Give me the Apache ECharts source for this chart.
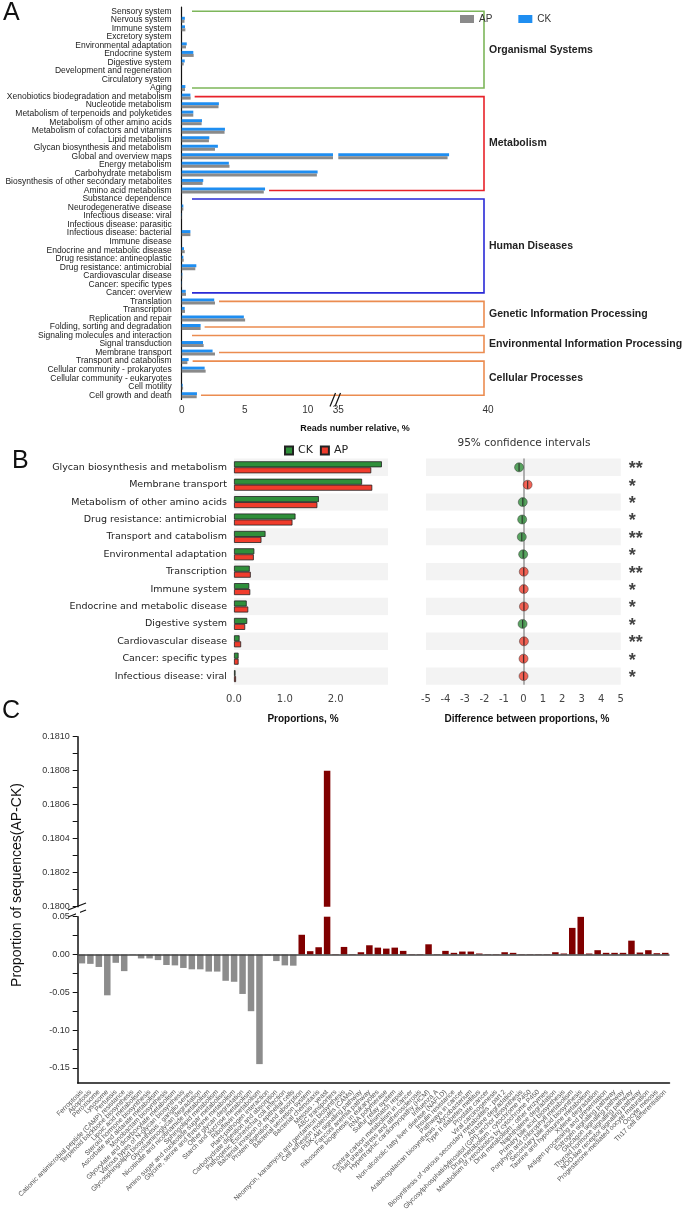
<!DOCTYPE html>
<html><head><meta charset="utf-8">
<script src="https://cdn.jsdelivr.net/npm/echarts@6/dist/echarts.min.js"></script>
<style>html,body{margin:0;padding:0;background:#fff}#c{width:685px;height:1222px}</style>
</head><body><div id="c"></div><script>
// ---------- Panel A data ----------
const catsA = ['Sensory system','Nervous system','Immune system','Excretory system','Environmental adaptation','Endocrine system','Digestive system','Development and regeneration','Circulatory system','Aging',
 'Xenobiotics biodegradation and metabolism','Nucleotide metabolism','Metabolism of terpenoids and polyketides','Metabolism of other amino acids','Metabolism of cofactors and vitamins','Lipid metabolism','Glycan biosynthesis and metabolism','Global and overview maps','Energy metabolism','Carbohydrate metabolism','Biosynthesis of other secondary metabolites','Amino acid metabolism',
 'Substance dependence','Neurodegenerative disease','Infectious disease: viral','Infectious disease: parasitic','Infectious disease: bacterial','Immune disease','Endocrine and metabolic disease','Drug resistance: antineoplastic','Drug resistance: antimicrobial','Cardiovascular disease','Cancer: specific types','Cancer: overview',
 'Translation','Transcription','Replication and repair','Folding, sorting and degradation',
 'Signaling molecules and interaction','Signal transduction','Membrane transport',
 'Transport and catabolism','Cellular community - prokaryotes','Cellular community - eukaryotes','Cell motility','Cell growth and death'];
const ckA = [0,0.25,0.26,0,0.40,0.92,0.24,0,0,0.29,
 0.69,2.95,0.92,1.61,3.43,2.19,2.87,38.7,3.74,10.78,1.71,6.61,
 0,0.13,0.02,0,0.69,0,0.18,0.13,1.16,0.05,0.02,0.32,
 2.58,0.24,4.93,1.50,
 0,1.69,2.45,
 0.55,1.82,0,0.08,1.21];
const apA = [0,0.22,0.29,0,0.34,0.95,0.16,0,0,0.26,
 0.71,2.92,0.92,1.58,3.40,2.16,2.64,38.65,3.79,10.72,1.66,6.51,
 0,0.13,0.02,0,0.69,0,0.24,0.16,1.08,0.05,0.02,0.34,
 2.64,0.26,5.03,1.50,
 0,1.74,2.64,
 0.45,1.90,0,0.11,1.19];
const groupNamesA = ['Organismal Systems','Metabolism','Human Diseases','Genetic Information Processing','Environmental Information Processing','Cellular Processes'];
const groupFirstA = [0,10,22,34,38,41];
const groupLastA  = [9,21,33,37,40,45];
const groupColorsA = ['#7db65a','#e8222a','#2a2ad6','#eb8c50','#eb8c50','#eb8c50'];
const ticksLeftA = [0,2.5,5,7.5,10], labelsLeftA = [0,5,10];
const ticksRightA = [35,37.5,40], labelsRightA = [35,40];

// ---------- Panel B data ----------
const catsB = ['Glycan biosynthesis and metabolism','Membrane transport','Metabolism of other amino acids','Drug resistance: antimicrobial','Transport and catabolism','Environmental adaptation','Transcription','Immune system','Endocrine and metabolic disease','Digestive system','Cardiovascular disease','Cancer: specific types','Infectious disease: viral'];
const ckB = [2.91,2.52,1.67,1.21,0.62,0.40,0.31,0.30,0.25,0.26,0.11,0.09,0.03];
const apB = [2.70,2.72,1.64,1.15,0.54,0.39,0.33,0.32,0.28,0.22,0.14,0.09,0.04];
const diffB = [-0.22,0.22,-0.03,-0.06,-0.08,-0.01,0.02,0.02,0.03,-0.04,0.03,0.01,0.01];
const sigB = ['**','*','*','*','**','*','**','*','*','*','**','*','*'];
const ticksPropB = [0,0.5,1,1.5,2,2.5], labelsPropB = [0,1,2];

// ---------- Panel C data ----------
const catsC = ['Ferroptosis','Apoptosis','Peroxisome','Lysosome','Pertussis','Cationic antimicrobial peptide (CAMP) resistance','Terpenoid backbone biosynthesis','Lipoic acid metabolism','Steroid hormone biosynthesis','Ascorbate and aldarate metabolism',
 'Monobactam biosynthesis','Glyoxylate and dicarboxylate metabolism','Various types of N-glycan biosynthesis','Glycosphingolipid biosynthesis - ganglio series','Glycosaminoglycan degradation','Nicotinate and nicotinamide metabolism','Sphingolipid metabolism','Amino sugar and nucleotide sugar metabolism','Glycine, serine and threonine metabolism','Other glycan degradation',
 'Starch and sucrose metabolism','Riboflavin metabolism','Plant-pathogen interaction','Carbohydrate digestion and absorption','Pathogenic Escherichia coli infection','Bacterial invasion of epithelial cells','Protein digestion and absorption','Bacterial secretion system','Bacterial chemotaxis','Meiosis - yeast',
 'ABC transporters','Neomycin, kanamycin and gentamicin biosynthesis','Cell adhesion molecules (CAMs)','PI3K-Akt signaling pathway','Fanconi anemia pathway','Ribosome biogenesis in eukaryotes','RNA polymerase','Sulfur relay system','Mismatch repair','Central carbon metabolism in cancer',
 'Fluid shear stress and atherosclerosis','Hypertrophic cardiomyopathy (HCM)','Influenza A','Non-alcoholic fatty liver disease (NAFLD)','Insulin resistance','Pathways in cancer','Arabinogalactan biosynthesis - Mycobacterium','Type II diabetes mellitus','Prostate cancer','Viral carcinogenesis',
 'Biosynthesis of various secondary metabolites - part 2','Atrazine degradation','Glycosylphosphatidylinositol (GPI)-anchor biosynthesis','Drug metabolism - cytochrome P450','Metabolism of xenobiotics by cytochrome P450','Drug metabolism - other enzymes','Naphthalene degradation','Primary bile acid biosynthesis','Porphyrin and chlorophyll metabolism','Secondary bile acid biosynthesis',
 'Taurine and hypotaurine metabolism','Xylene degradation','Antigen processing and presentation','Estrogen signaling pathway','Glucagon signaling pathway','Thyroid hormone signaling pathway','NOD-like receptor signaling pathway','Progesterone-mediated oocyte maturation','Oocyte meiosis','Th17 cell differentiation'];
const valsC = [-0.0118,-0.0124,-0.0165,-0.054,-0.011,-0.022,-0.0005,-0.0052,-0.0052,-0.0074,
 -0.0139,-0.0144,-0.0178,-0.0196,-0.0196,-0.0226,-0.0226,-0.0348,-0.0361,-0.0522,
 -0.075,-0.145,-0.0013,-0.0087,-0.0144,-0.0148,0.0261,0.0044,0.0096,0.1808,
 0.0005,0.010,0.0005,0.003,0.0122,0.0091,0.0078,0.0091,0.0048,0.0005,
 0.0005,0.0135,0.0005,0.0048,0.0022,0.0039,0.0039,0.0013,0.0005,0.0005,
 0.003,0.0022,0.0005,0.0005,0.0005,0.0005,0.003,0.0013,0.0352,0.0498,
 0.0013,0.0057,0.0022,0.0022,0.0022,0.0183,0.0026,0.0057,0.0017,0.0022];
const ticksUpperC = [0.18,0.1801,0.1802,0.1803,0.1804,0.1805,0.1806,0.1807,0.1808,0.1809,0.181];
const labelsUpperC = [0.18,0.1802,0.1804,0.1806,0.1808,0.181];
const ticksLowerC = [-0.15,-0.125,-0.1,-0.075,-0.05,-0.025,0,0.025,0.05];
const labelsLowerC = [-0.15,-0.1,-0.05,0,0.05];

const FA = '"Liberation Sans", Arial, Helvetica, sans-serif';
const FB = '"DejaVu Sans", sans-serif';
const BLUE = '#1f8ef1', GRAY = '#8a8a8a', GREEN = '#2f8f3a', RED = '#f03c2c', DRED = '#800000', CGRAY = '#8c8c8c';

const gridBase = {outerBoundsMode: 'none', containLabel: false};
const catYA = (extra) => Object.assign({type: 'category', data: catsA, inverse: true, gridIndex: 0}, extra);

const option = {
  animation: false,
  backgroundColor: '#fff',
  textStyle: {fontFamily: FA},
  grid: [
    Object.assign({left: 181.7, top: 7, width: 151.3, height: 392.5}, gridBase),
    Object.assign({left: 338.3, top: 7, width: 149.7, height: 392.5}, gridBase),
    Object.assign({left: 234, top: 458.6, width: 154, height: 226.2}, gridBase),
    Object.assign({left: 426, top: 458.6, width: 194.7, height: 226.2}, gridBase),
    Object.assign({left: 77.7, top: 736.7, width: 591.8, height: 170}, gridBase),
    Object.assign({left: 77.7, top: 916.7, width: 591.8, height: 166.3}, gridBase)
  ],
  legend: [
    {data: ['AP', 'CK'], left: 455, top: 9, icon: 'rect', itemWidth: 14, itemHeight: 8, itemGap: 26,
     textStyle: {fontSize: 10, color: '#333', fontFamily: FA}},
    {data: ['CK_B', 'AP_B'], left: 279, top: 440, icon: 'rect', itemWidth: 8, itemHeight: 8, itemGap: 7,
     formatter: n => n.replace('_B', ''), textStyle: {fontSize: 11, color: '#222', fontFamily: FB}}
  ],
  xAxis: [
    {type: 'value', gridIndex: 0, min: 0, max: 12, splitLine: {show: false},
     axisLine: {lineStyle: {color: '#111', width: 1.2}},
     axisTick: {customValues: ticksLeftA, length: 4, lineStyle: {color: '#111'}},
     axisLabel: {customValues: labelsLeftA, fontSize: 10, color: '#333', margin: 6}},
    {type: 'value', gridIndex: 1, min: 35, max: 40, splitLine: {show: false},
     axisLine: {lineStyle: {color: '#111', width: 1.2}},
     axisTick: {customValues: ticksRightA, length: 4, lineStyle: {color: '#111'}},
     axisLabel: {customValues: labelsRightA, fontSize: 10, color: '#333', margin: 6}},
    {type: 'value', gridIndex: 2, min: 0, max: 3.03, offset: 4, splitLine: {show: false},
     axisLine: {lineStyle: {color: '#aaa', width: 1.2}},
     axisTick: {customValues: ticksPropB, inside: true, length: 4, lineStyle: {color: '#777'}},
     axisLabel: {customValues: labelsPropB, formatter: v => Number(v).toFixed(1), fontSize: 10, color: '#444', margin: 6, fontFamily: FB}},
    {type: 'value', gridIndex: 3, min: -5, max: 5, interval: 1, offset: 4, splitLine: {show: false},
     axisLine: {lineStyle: {color: '#aaa', width: 1.2}},
     axisTick: {inside: true, length: 4, lineStyle: {color: '#777'}},
     axisLabel: {fontSize: 10, color: '#444', margin: 6, fontFamily: FB}},
    {type: 'category', gridIndex: 4, data: catsC, axisLine: {show: false}, axisTick: {show: false}, axisLabel: {show: false}},
    {type: 'category', gridIndex: 5, data: catsC,
     axisLine: {onZero: false, lineStyle: {color: '#111', width: 1.5}},
     axisTick: {alignWithLabel: true, interval: 0, length: 6, lineStyle: {color: '#111'}},
     axisLabel: {interval: 0, rotate: 45, fontSize: 6.8, color: '#555', margin: 8, hideOverlap: false}},
    {type: 'category', gridIndex: 5, data: catsC,
     axisLine: {show: false, onZero: false},
     axisTick: {interval: 0, length: 3, lineStyle: {color: '#111'}},
     axisLabel: {show: false}}
  ],
  yAxis: [
    catYA({axisLine: {lineStyle: {color: '#111', width: 1.2}},
      axisTick: {alignWithLabel: true, interval: 0, length: 6, lineStyle: {color: '#111'}},
      axisLabel: {interval: 0, fontSize: 8.5, color: '#222', margin: 10}}),
    catYA({axisLine: {show: false}, axisLabel: {show: false},
      axisTick: {interval: 0, length: 3, lineStyle: {color: '#111'}}}),
    {type: 'category', data: catsA, inverse: true, gridIndex: 1, axisLine: {show: false}, axisTick: {show: false}, axisLabel: {show: false}},
    {type: 'category', data: catsB, inverse: true, gridIndex: 2,
     axisLine: {show: false}, axisTick: {show: false},
     axisLabel: {interval: 0, fontSize: 9.5, color: '#222', margin: 7, fontFamily: FB},
     splitArea: {show: true, interval: 0, areaStyle: {color: ['#f3f3f3', '#ffffff']}}},
    {type: 'category', data: catsB, inverse: true, gridIndex: 3,
     axisLine: {show: false}, axisTick: {show: false}, axisLabel: {show: false},
     splitArea: {show: true, interval: 0, areaStyle: {color: ['#f3f3f3', '#ffffff']}}},
    {type: 'value', gridIndex: 4, min: 0.18, max: 0.181, splitLine: {show: false},
     axisLine: {show: true, lineStyle: {color: '#111', width: 1.5}},
     axisTick: {show: true, customValues: ticksUpperC, length: 5, lineStyle: {color: '#111'}},
     axisLabel: {customValues: labelsUpperC, formatter: v => Number(v).toFixed(4), fontSize: 9, color: '#333', margin: 8}},
    {type: 'value', gridIndex: 5, min: -0.17, max: 0.05, splitLine: {show: false},
     axisLine: {show: true, lineStyle: {color: '#111', width: 1.5}},
     axisTick: {show: true, customValues: ticksLowerC, length: 5, lineStyle: {color: '#111'}},
     axisLabel: {customValues: labelsLowerC, formatter: v => Number(v).toFixed(2), fontSize: 9, color: '#333', margin: 8}}
  ],
  series: [
    {name: 'CK', type: 'bar', xAxisIndex: 0, yAxisIndex: 0, data: ckA, barWidth: 3, barGap: '0%', itemStyle: {color: BLUE}},
    {name: 'AP', type: 'bar', xAxisIndex: 0, yAxisIndex: 0, data: apA, barWidth: 3, barGap: '0%', itemStyle: {color: GRAY}},
    {name: 'CK', type: 'bar', xAxisIndex: 1, yAxisIndex: 2, data: ckA, barWidth: 3, barGap: '0%', itemStyle: {color: BLUE}},
    {name: 'AP', type: 'bar', xAxisIndex: 1, yAxisIndex: 2, data: apA, barWidth: 3, barGap: '0%', itemStyle: {color: GRAY}},
    {name: 'CK_B', type: 'bar', xAxisIndex: 2, yAxisIndex: 3, data: ckB, barWidth: 6, barGap: '0%',
     itemStyle: {color: GREEN, borderColor: '#222', borderWidth: 0.8}},
    {name: 'AP_B', type: 'bar', xAxisIndex: 2, yAxisIndex: 3, data: apB, barWidth: 6, barGap: '0%',
     itemStyle: {color: RED, borderColor: '#222', borderWidth: 0.8}},
    {type: 'scatter', xAxisIndex: 3, yAxisIndex: 4, z: 3, symbolSize: 9,
     data: diffB.map((d, i) => ({value: [d, i], itemStyle: {color: d < 0 ? GREEN : RED, borderColor: '#333', borderWidth: 0.6}})),
     markLine: {silent: true, symbol: 'none', label: {show: false}, z: 1, lineStyle: {color: '#999', width: 1.5, type: 'solid'},
       data: [{xAxis: 0}]}},
    {type: 'scatter', xAxisIndex: 3, yAxisIndex: 4, z: 4, symbol: 'rect', symbolSize: [1.2, 8],
     itemStyle: {color: '#222'}, data: diffB.map((d, i) => [d, i])},
    {type: 'scatter', xAxisIndex: 3, yAxisIndex: 4, symbolSize: 0, z: 5,
     data: sigB.map((s, i) => [5, i, s]),
     label: {show: true, position: 'right', distance: 8, formatter: p => p.data[2],
       fontSize: 18, fontWeight: 'bold', color: '#111', fontFamily: FA, offset: [0, 2]}},
    {type: 'bar', xAxisIndex: 4, yAxisIndex: 5, data: valsC, barWidth: 6.5,
     itemStyle: {color: p => p.value < 0 ? CGRAY : DRED}},
    {type: 'bar', xAxisIndex: 5, yAxisIndex: 6, data: valsC, barWidth: 6.5, z: 2,
     itemStyle: {color: p => p.value < 0 ? CGRAY : DRED},
     markLine: {silent: true, symbol: 'none', label: {show: false}, z: 3,
       lineStyle: {color: '#444', width: 1.5, type: 'solid'}, data: [{yAxis: 0}]}}
  ]
};

const chart = echarts.init(document.getElementById('c'), null, {renderer: 'canvas', width: 685, height: 1222});
chart.setOption(option);

// ---------- annotations positioned from the axes ----------
const g = [];
const txt = (x, y, text, o) => g.push(Object.assign({type: 'text', x: x, y: y,
  style: Object.assign({text: text, fill: '#111', fontFamily: FA, fontSize: 10, align: 'left', verticalAlign: 'middle'}, o || {})}));
txt(3, 13, 'A', {fontSize: 25});
txt(12, 461, 'B', {fontSize: 25});
txt(2, 711, 'C', {fontSize: 25});
const yA = i => chart.convertToPixel({yAxisIndex: 0}, catsA[i]);
const xA = v => chart.convertToPixel({xAxisIndex: 0}, Math.min(v, 12));
const RIGHT_X = 484;
for (let k = 0; k < groupNamesA.length; k++) {
  const a = groupFirstA[k], b = groupLastA[k];
  const ya = yA(a), yb = yA(b);
  const xa = Math.max(192, xA(Math.max(ckA[a], apA[a])) + 4);
  const xb = Math.max(192, xA(Math.max(ckA[b], apA[b])) + 4);
  g.push({type: 'polyline', shape: {points: [[xa, ya], [RIGHT_X, ya], [RIGHT_X, yb], [xb, yb]]},
    style: {stroke: groupColorsA[k], lineWidth: 1.6, fill: null}});
  txt(489, (ya + yb) / 2, groupNamesA[k], {fontSize: 10.5, fontWeight: 'bold', fill: '#222'});
}
g.push({type: 'line', shape: {x1: 330, y1: 406.5, x2: 335.5, y2: 393}, style: {stroke: '#111', lineWidth: 1.2}});
g.push({type: 'line', shape: {x1: 335, y1: 406.5, x2: 340.5, y2: 393}, style: {stroke: '#111', lineWidth: 1.2}});
txt(355, 429, 'Reads number relative, %', {fontSize: 9, fontWeight: 'bold', align: 'center'});
txt(524, 443, '95% confidence intervals', {fontSize: 10.5, fontFamily: FB, fill: '#333', align: 'center'});
txt(303, 719, 'Proportions, %', {fontSize: 10, fontWeight: 'bold', align: 'center'});
txt(527, 719, 'Difference between proportions, %', {fontSize: 10, fontWeight: 'bold', align: 'center'});
g.push({type: 'line', shape: {x1: 68, y1: 910, x2: 86, y2: 903}, style: {stroke: '#111', lineWidth: 1.3}});
g.push({type: 'line', shape: {x1: 68, y1: 917, x2: 86, y2: 910}, style: {stroke: '#111', lineWidth: 1.3}});
g.push({type: 'rect', shape: {x: 76, y: 907.5, width: 4, height: 8.5}, style: {fill: '#fff'}});
g.push({type: 'text', x: 17, y: 885, rotation: Math.PI / 2,
  style: {text: 'Proportion of sequences(AP-CK)', fill: '#111', fontFamily: FA, fontSize: 14, align: 'center', verticalAlign: 'middle'}});
chart.setOption({graphic: g});
</script></body></html>
